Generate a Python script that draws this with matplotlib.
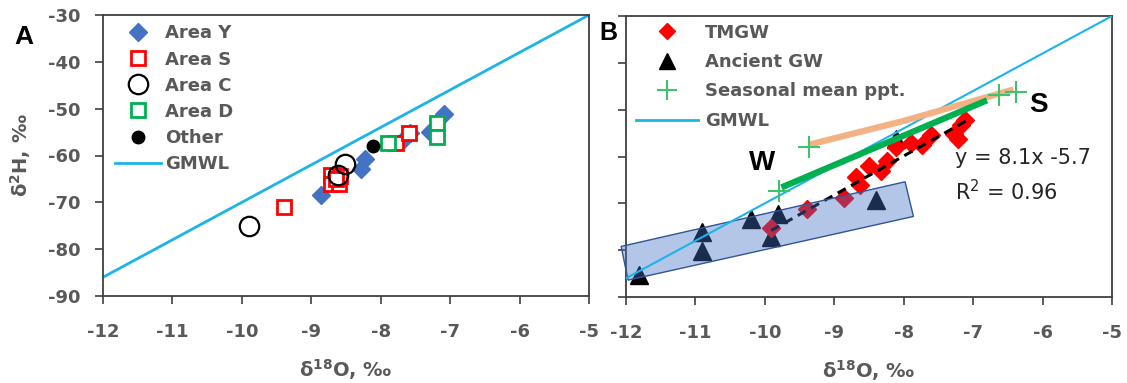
import matplotlib
matplotlib.use("Agg")
import matplotlib.pyplot as plt
from matplotlib.patches import Polygon
from matplotlib.lines import Line2D
import numpy as np

plt.rcParams['font.family'] = ['DejaVu Sans']
plt.rcParams['mathtext.fontset'] = 'dejavusans'

GREY = '#595959'
CYAN = '#1CB4E8'

# ---------------- Panel A data ----------------
areaY_x = [-8.86, -8.29, -8.22, -7.69, -7.58, -7.29, -7.09, -8.61]
areaY_y = [-68.5, -62.8, -60.8, -56.8, -55.3, -55.0, -51.2, -63.9]
areaS_x = [-9.40, -8.72, -8.72, -8.60, -8.58, -8.65, -7.78, -7.59]
areaS_y = [-71.1, -64.2, -66.1, -66.1, -64.3, -65.0, -57.3, -55.2]
areaC_x = [-9.90, -8.51, -8.62]
areaC_y = [-75.0, -61.9, -64.1]
areaD_x = [-7.90, -7.19, -7.19]
areaD_y = [-57.3, -53.0, -56.0]
other_x = [-8.11]
other_y = [-58.0]
gmwl_x = [-12, -5]
gmwl_y = [-86, -30]

# ---------------- Panel B data ----------------
tmgw_x = [-9.91, -9.40, -8.86, -8.69, -8.63, -8.50, -8.32, -8.24, -8.11,
          -7.90, -7.74, -7.61, -7.28, -7.22, -7.12, -7.17]
tmgw_y = [-75.2, -71.3, -68.8, -64.4, -66.1, -62.1, -63.1, -60.9, -57.9,
          -57.1, -57.6, -55.4, -55.1, -56.2, -52.1, -53.3]
ancient_x = [-11.81, -10.90, -10.90, -10.20, -9.81, -9.91, -8.40, -8.11]
ancient_y = [-85.4, -76.1, -80.1, -73.3, -72.2, -77.2, -69.3, -56.2]
ppt_x = [-9.80, -9.37, -6.63, -6.38]
ppt_y = [-67.3, -57.9, -46.9, -46.2]
green_x = [-9.76, -6.80]
green_y = [-66.6, -48.0]
peach_x = [-9.37, -8.0, -6.42]
peach_y = [-57.5, -52.4, -45.7]
fit_x = [-9.91, -7.04]
fit_y = [-75.8, -51.9]
box_x = [-12.07, -7.98, -7.86, -11.97]
box_y = [-79.2, -65.4, -72.8, -86.4]

xticks = [-12, -11, -10, -9, -8, -7, -6, -5]
yticks = [-90, -80, -70, -60, -50, -40, -30]

fig = plt.figure(figsize=(11.27, 3.83), dpi=100)
W, H = 1127, 383
ax1 = fig.add_axes([103 / W, 1 - 296 / H, 486 / W, 281 / H])
ax2 = fig.add_axes([626 / W, 1 - 297 / H, 486 / W, 281 / H])

for ax in (ax1, ax2):
    ax.set_xlim(-12, -5)
    ax.set_ylim(-90, -30)
    ax.set_xticks(xticks)
    ax.set_yticks(yticks)
    ax.set_xticklabels([str(t) for t in xticks])
    ax.tick_params(direction='out', length=5.5, width=1.2, colors='#404040',
                   labelcolor=GREY, labelsize=13)
    ax.tick_params(axis='x', pad=14)
    ax.tick_params(axis='y', pad=10.5)
    for sp in ax.spines.values():
        sp.set_color('#404040')
        sp.set_linewidth(1.3)
    ax.set_xlabel(r'δ$^{\mathbf{18}}$O, ‰', fontsize=14, fontweight='bold',
                  color=GREY)
    ax.xaxis.label.set_va('center')
    ax.xaxis.set_label_coords(0.5, (296 - 370) / 281)

ax1.set_yticklabels([str(t) for t in yticks])
ax2.set_yticklabels([])
for ax in (ax1, ax2):
    for lab in ax.get_xticklabels() + ax.get_yticklabels():
        lab.set_fontweight('bold')
ax1.set_ylabel(r'δ$^{\mathbf{2}}$H, ‰', fontsize=14, fontweight='bold', color=GREY)
ax1.yaxis.label.set_va('center')
ax1.yaxis.set_label_coords((21 - 103) / 486, 0.5)

# Panel A
ax1.plot(gmwl_x, gmwl_y, color=CYAN, lw=2, label='GMWL', zorder=2)
ax1.plot(areaY_x, areaY_y, 'D', color='#4472C4', ms=9.5, ls='none', label='Area Y', zorder=3)
ax1.plot(areaS_x, areaS_y, 's', mfc='white', mec='#FF0000', mew=2, ms=9.5, ls='none',
         label='Area S', zorder=4)
ax1.plot(areaC_x, areaC_y, 'o', mfc='none', mec='black', mew=1.6, ms=14, ls='none',
         label='Area C', zorder=5)
ax1.plot(areaD_x, areaD_y, 's', mfc='white', mec='#00B050', mew=2, ms=9.5, ls='none',
         label='Area D', zorder=4)
ax1.plot(other_x, other_y, 'o', color='black', ms=9, ls='none', label='Other', zorder=5)

h, l = ax1.get_legend_handles_labels()
order = ['Area Y', 'Area S', 'Area C', 'Area D', 'Other', 'GMWL']
hd = dict(zip(l, h))
leg1 = ax1.legend([hd[k] for k in order], order, loc='upper left',
                  bbox_to_anchor=(0.012, 0.989), frameon=False, fontsize=13,
                  labelspacing=0.45, handlelength=2.55, handletextpad=0.22,
                  borderaxespad=0.0, borderpad=0.35)
for t in leg1.get_texts():
    t.set_color(GREY)
    t.set_fontweight('bold')

fig.text(24 / W, 1 - 37 / H, 'A', fontsize=19, fontweight='bold',
         family='Liberation Sans', ha='center', va='center')

# Panel B
ax2.plot(ancient_x, ancient_y, '^', color='black', ms=13, ls='none', zorder=3)
ax2.plot(tmgw_x, tmgw_y, 'D', color='#FF0000', ms=9, ls='none', zorder=3)
ax2.plot(fit_x, fit_y, color='black', lw=2.2, ls=(0, (3, 2)), zorder=4)
ax2.add_patch(Polygon(np.column_stack([box_x, box_y]), closed=True,
                      facecolor=(0x44 / 255, 0x72 / 255, 0xC4 / 255, 0.4),
                      edgecolor='#2F5597', lw=1.0, zorder=5, clip_on=False))
ax2.plot(gmwl_x, gmwl_y, color=CYAN, lw=1.5, zorder=6)
ax2.plot(peach_x, peach_y, color='#F4B183', lw=4.5, solid_capstyle='butt', zorder=7)
ax2.plot(green_x, green_y, color='#00B050', lw=4.5, solid_capstyle='butt', zorder=7)
ax2.plot(ppt_x, ppt_y, '+', color='#3CC36B', ms=16, mew=1.5, ls='none', zorder=8)

hB = [Line2D([], [], marker='D', color='#FF0000', ls='none', ms=8),
      Line2D([], [], marker='^', color='black', ls='none', ms=12),
      Line2D([], [], marker='+', color='#3CC36B', ls='none', ms=14, mew=1.5),
      Line2D([], [], color=CYAN, lw=2)]
lB = ['TMGW', 'Ancient GW', 'Seasonal mean ppt.', 'GMWL']
leg2 = ax2.legend(hB, lB, loc='upper left', bbox_to_anchor=(0.008, 0.995),
                  frameon=False, fontsize=13, labelspacing=0.63,
                  handlelength=3.4, handletextpad=0.39, borderaxespad=0.0,
                  borderpad=0.35)
for t in leg2.get_texts():
    t.set_color(GREY)
    t.set_fontweight('bold')

fig.text(608 / W, 1 - 33 / H, 'B', fontsize=18, fontweight='bold',
         family='Liberation Sans', ha='center', va='center')
ax2.text(-10.04, -61.3, 'W', fontsize=20, fontweight='bold', family='Liberation Sans',
         ha='center', va='center')
ax2.text(-6.06, -49.0, 'S', fontsize=20, fontweight='bold', family='Liberation Sans',
         ha='center', va='center')
ax2.text(-7.26, -60.3, 'y = 8.1x -5.7', fontsize=15, color='#262626', ha='left',
         va='center')
ax2.text(-7.26, -67.6, r'R$^{2}$ = 0.96', fontsize=15, color='#262626', ha='left',
         va='center')

fig.savefig('out.png', dpi=100)
